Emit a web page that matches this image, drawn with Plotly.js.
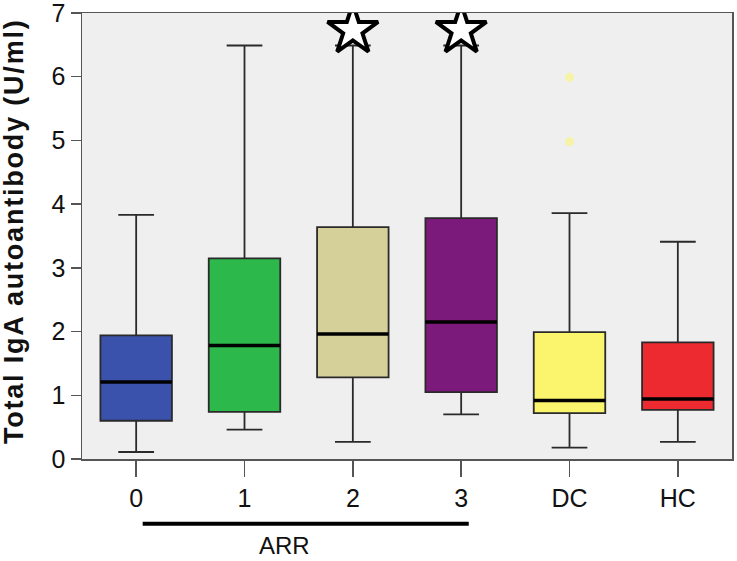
<!DOCTYPE html>
<html>
<head>
<meta charset="utf-8">
<script src="https://cdn.plot.ly/plotly-3.0.1.min.js"></script>
<style>html,body{margin:0;padding:0;background:#fff;}#chart{width:737px;height:561px;}
.ytitlefix{letter-spacing:1.8px;}</style>
</head>
<body>
<div id="chart"></div>
<script>
// ---- data ----
const categories = ['0', '1', '2', '3', 'DC', 'HC'];
const lowerWhisker = [0.11, 0.46, 0.27, 0.70, 0.18, 0.27];
const q1Values     = [0.60, 0.74, 1.28, 1.05, 0.72, 0.77];
const medianValues = [1.21, 1.78, 1.96, 2.15, 0.92, 0.94];
const q3Values     = [1.94, 3.15, 3.64, 3.78, 1.99, 1.83];
const upperWhisker = [3.83, 6.49, 6.49, 6.49, 3.86, 3.41];
const boxColors    = ['#3a52ab', '#2cb84b', '#d5d09a', '#7b1a7a', '#fbf56e', '#ec2a30'];
const outlierCats  = ['DC', 'DC'];
const outlierVals  = [5.99, 4.98];
const starCats     = ['2', '3'];
const starVals     = [6.73, 6.73];
const groupLabel   = 'ARR';
const yTitle       = 'Total IgA autoantibody (U/ml)';

const traces = categories.map((c, i) => ({
  type: 'box',
  x: [c],
  q1: [q1Values[i]],
  median: [medianValues[i]],
  q3: [q3Values[i]],
  lowerfence: [lowerWhisker[i]],
  upperfence: [upperWhisker[i]],
  fillcolor: boxColors[i],
  line: {color: '#2a2a2a', width: 1.8},
  width: 0.66,
  whiskerwidth: 0.5,
  boxpoints: false,
  hoverinfo: 'skip',
  showlegend: false
}));

traces.push({
  type: 'scatter', mode: 'markers',
  x: outlierCats, y: outlierVals,
  marker: {color: '#f6f3a6', size: 9, line: {width: 0}},
  showlegend: false, hoverinfo: 'skip'
});

traces.push({
  type: 'scatter', mode: 'markers',
  x: starCats, y: starVals,
  marker: {symbol: 'star', color: '#ffffff', size: 38, line: {color: '#000', width: 4}},
  showlegend: false, hoverinfo: 'skip'
});

const shapes = medianValues.map((m, i) => ({
  type: 'line', xref: 'x', yref: 'y',
  x0: i - 0.33, x1: i + 0.33, y0: m, y1: m,
  line: {color: '#000', width: 3.5}
}));
shapes.push({
  type: 'line', xref: 'x', yref: 'paper',
  x0: 0.06, x1: 3.07, y0: -0.145, y1: -0.145,
  line: {color: '#000', width: 4}
});

const layout = {
  width: 737, height: 561,
  margin: {l: 82, r: 5, t: 13, b: 102},
  paper_bgcolor: '#ffffff',
  plot_bgcolor: '#efefef',
  font: {family: 'Liberation Sans, Arial, sans-serif', color: '#111'},
  showlegend: false,
  boxmode: 'overlay',
  xaxis: {
    type: 'category',
    categoryorder: 'array', categoryarray: categories,
    range: [-0.5, 5.5],
    showgrid: false, zeroline: false,
    showline: true, linecolor: '#555', linewidth: 1.5, mirror: true,
    ticks: 'outside', ticklen: 16, tickwidth: 1.5, tickcolor: '#555',
    tickfont: {size: 25, color: '#111'}
  },
  yaxis: {
    range: [0, 7], dtick: 1,
    showgrid: false, zeroline: false,
    showline: true, linecolor: '#555', linewidth: 1.5, mirror: true,
    ticks: 'outside', ticklen: 10, tickwidth: 1.5, tickcolor: '#555',
    tickfont: {size: 25, color: '#111'},
    ticklabeloverflow: 'allow'
  },
  shapes: shapes,
  annotations: [{
    text: groupLabel, xref: 'x', yref: 'paper', x: 1.37, y: -0.193,
    showarrow: false, font: {size: 24, color: '#111'}, xanchor: 'center', yanchor: 'middle'
  }, {
    text: '<b>' + yTitle + '</b>', xref: 'paper', yref: 'paper', x: -0.1046, y: 0.509,
    textangle: -90, showarrow: false, font: {size: 27, color: '#111'},
    xanchor: 'center', yanchor: 'middle'
  }]
};

Plotly.newPlot('chart', traces, layout, {displayModeBar: false, staticPlot: true}).then(() => {
  const ann = document.querySelectorAll('.annotation-text');
  ann.forEach(t => { if (t.textContent.indexOf('IgA') >= 0) t.classList.add('ytitlefix'); });
});
</script>
</body>
</html>
